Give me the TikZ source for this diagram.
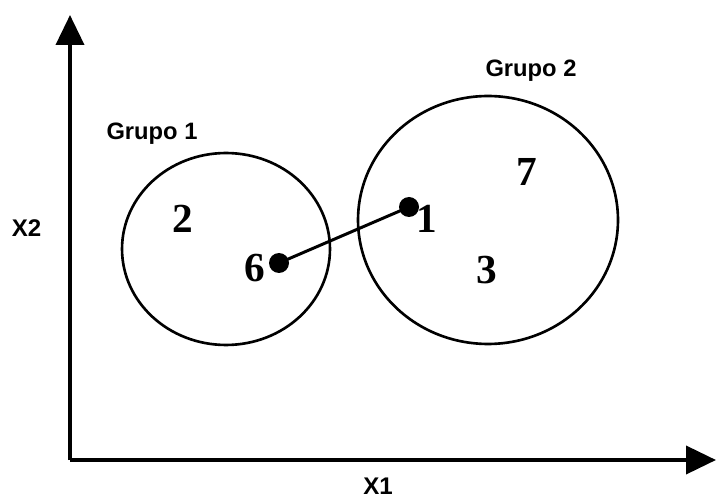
\documentclass[tikz,border=0pt]{standalone}
\usepackage{fontspec}
\setmainfont{Liberation Serif}
\setsansfont{Liberation Sans}
\usetikzlibrary{arrows.meta, shapes.geometric}
\tikzset{
  ax/.style    = {-{Triangle[length=6mm, width=5.6mm]}, line width=2.2pt},
  grp/.style   = {draw, ellipse, line width=1.5pt, inner sep=0pt},
  pt/.style    = {circle, fill=black, inner sep=0pt, minimum size=4mm},
  num/.style   = {font=\fontsize{23.5}{23.5}\selectfont\bfseries, inner sep=0pt},
  glab/.style  = {font=\sffamily\bfseries\fontsize{13.5}{13.5}\selectfont, inner sep=0pt},
  axlab/.style = {font=\sffamily\bfseries\fontsize{13.7}{13.7}\selectfont, inner sep=0pt},
  lnk/.style   = {line width=1.7pt},
}
\begin{document}
\begin{tikzpicture}[x=0.02cm, y=-0.02cm]
\useasboundingbox (0,0) rectangle (716,499);
% --- axes ---------------------------------------------------------------
\coordinate (o)  at (70,460);
\coordinate (xe) at (716,460);
\coordinate (ye) at (70,15);
\draw[ax] (o) -- (xe);
\draw[ax] (o) -- (ye);
\node[axlab] (x1) at (378,486.5) {X1};
\node[axlab] (x2) at (26.5,228) {X2};
% --- the two groups -----------------------------------------------------
\node[grp, minimum width=4.16cm, minimum height=3.84cm] (g1) at (226,249) {};
\node[grp, minimum width=5.2cm,  minimum height=4.96cm] (g2) at (488,220) {};
\node[glab] (g1lab) at (152,134) {Grupo 1};
\node[glab] (g2lab) at (531,71)  {Grupo 2};
% --- points -------------------------------------------------------------
\node[pt] (p6) at (279,263) {};
\node[pt] (p1) at (409,207) {};
\draw[lnk] (p6.center) -- (p1.center);
\node[num] (n2) at (183,219) {2};
\node[num] (n6) at (255,268) {6};
\node[num] (n1) at (427,219) {1};
\node[num] (n3) at (487,270) {3};
\node[num] (n7) at (527,172) {7};
\end{tikzpicture}
\end{document}
